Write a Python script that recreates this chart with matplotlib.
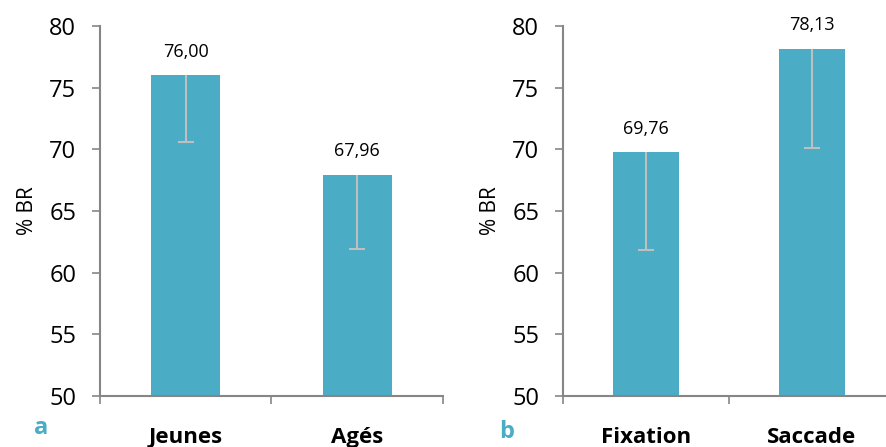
import matplotlib
matplotlib.use('Agg')
import matplotlib.pyplot as plt

# Panel a
cats_a = ['Jeunes', 'Agés']
vals_a = [76.00, 67.96]
err_a = [5.4, 6.06]

# Panel b
cats_b = ['Fixation', 'Saccade']
vals_b = [69.76, 78.13]
err_b = [7.9, 8.0]

yticks = [50, 55, 60, 65, 70, 75, 80]
bar_color = '#4BACC6'
axis_color = '#868686'
err_color = '#BFBFBF'

plt.rcParams['font.family'] = ['Open Sans', 'DejaVu Sans']

fig = plt.figure(figsize=(8.87, 4.47), dpi=100)
ax1 = fig.add_axes([0.1127, 0.1141, 0.3867, 0.8277])
ax2 = fig.add_axes([0.6347, 0.1141, 0.3743, 0.8277])


def draw(ax, cats, vals, errs):
    x = list(range(len(cats)))
    ax.bar(x, vals, width=0.4, color=bar_color, zorder=2)
    lows = [v - e for v, e in zip(vals, errs)]
    # only the lower half of the error bar, cap at the bottom
    ax.vlines(x, lows, vals, color=err_color, linewidth=1.5, zorder=3)
    ax.plot(x, lows, linestyle='none', marker='_', markersize=12,
            markeredgewidth=1.5, color=err_color, zorder=3)
    for xi, v in zip(x, vals):
        ax.annotate(f'{v:.2f}'.replace('.', ','), (xi, v), xytext=(0, 17),
                    textcoords='offset points', ha='center', va='center', fontsize=13)
    ax.set_ylim(50, 80)
    ax.set_xlim(-0.5, len(cats) - 0.5)
    ax.set_yticks(yticks)
    ax.set_xticks(x)
    ax.set_xticklabels(cats, fontsize=16, fontweight='bold')
    ax.set_xticks([i - 0.5 for i in range(len(cats) + 1)], minor=True)
    ax.tick_params(axis='x', which='major', length=0, pad=22)
    ax.tick_params(axis='x', which='minor', length=6, color=axis_color, width=1.2)
    ax.tick_params(axis='y', length=6, color=axis_color, width=1.2, labelsize=17, pad=11)
    for s in ['top', 'right']:
        ax.spines[s].set_visible(False)
    for s in ['left', 'bottom']:
        ax.spines[s].set_color(axis_color)
        ax.spines[s].set_linewidth(1.5)
    ax.set_ylabel('% BR', fontsize=15, labelpad=8)


draw(ax1, cats_a, vals_a, err_a)
draw(ax2, cats_b, vals_b, err_b)

fig.text(0.046, 0.042, 'a', color=bar_color, fontsize=17, fontweight='bold', ha='center', va='center')
fig.text(0.571, 0.034, 'b', color=bar_color, fontsize=17, fontweight='bold', ha='center', va='center')

fig.savefig('out.png', dpi=100)
